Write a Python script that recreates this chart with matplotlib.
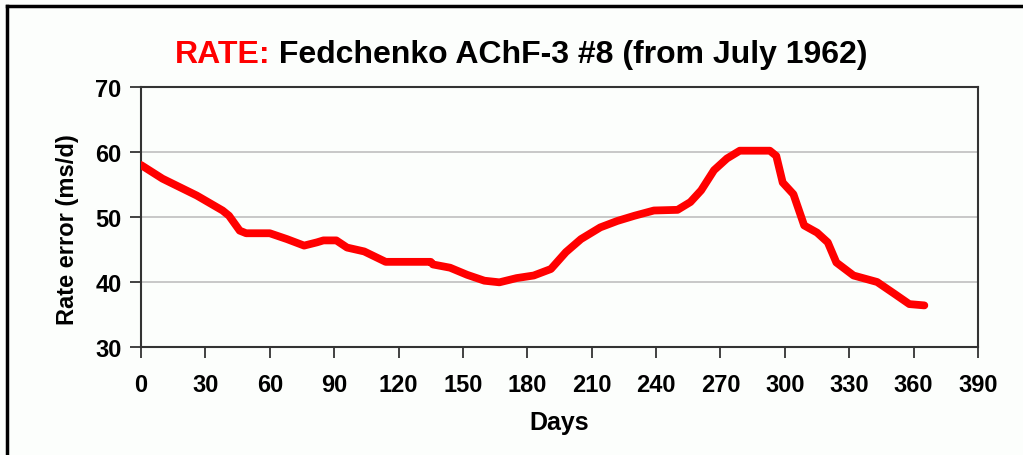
import matplotlib
matplotlib.use('Agg')
import matplotlib.pyplot as plt
from matplotlib.lines import Line2D

# values
days = [0, 10, 26, 38, 41, 46, 49, 60, 68, 76, 82, 85, 91, 96, 104, 114,
        121, 135, 136, 144, 152, 160, 167, 175, 183, 191, 198, 205, 214,
        222, 230, 239, 250, 256, 261, 267, 273, 279, 293, 296, 299, 304,
        309, 315, 320, 324, 332, 343, 351, 358, 365]
rate = [58.0, 55.9, 53.3, 51.0, 50.2, 47.9, 47.5, 47.5, 46.6, 45.6, 46.1,
        46.4, 46.4, 45.3, 44.7, 43.1, 43.1, 43.1, 42.7, 42.2, 41.1, 40.2,
        39.95, 40.6, 41.0, 42.0, 44.6, 46.6, 48.4, 49.4, 50.2, 51.0, 51.1,
        52.3, 54.1, 57.2, 59.0, 60.2, 60.2, 59.4, 55.3, 53.5, 48.7, 47.6,
        46.1, 43.0, 41.0, 40.0, 38.2, 36.6, 36.4]

xticks = list(range(0, 391, 30))
yticks = [30, 40, 50, 60, 70]

plt.rcParams['font.family'] = ['Liberation Sans', 'DejaVu Sans']
plt.rcParams['font.weight'] = 'bold'

bg = '#fcfefc'
fig = plt.figure(figsize=(10.23, 4.56), dpi=100, facecolor=bg)
ax = fig.add_axes([141/1023, 1 - 348/456, (978 - 141)/1023, (348 - 88)/456])
ax.set_facecolor(bg)

ax.plot(days, rate, color='#ff0000', lw=5.6, solid_capstyle='round',
        solid_joinstyle='round', zorder=3)

ax.set_xlim(0, 390)
ax.set_ylim(30, 70)
ax.set_xticks(xticks)
ax.set_yticks(yticks)
ax.yaxis.grid(True, color='#c8c8c8', lw=1.4)
ax.set_axisbelow(True)
for s in ax.spines.values():
    s.set_color('#333333')
    s.set_linewidth(1.5)
ax.tick_params(axis='both', direction='out', length=8, width=1.3,
               color='#333333', labelsize=17, pad=6)
ax.tick_params(axis='x', pad=11)
ax.set_xlabel('Days', fontsize=18, fontweight='bold', labelpad=10)
ax.set_ylabel('Rate error (ms/d)', fontsize=17, fontweight='bold')
ax.yaxis.set_label_coords(-0.074, 0.455)

# two-colour title
fig.canvas.draw()
r = fig.canvas.get_renderer()
t1 = fig.text(0, 1 - 63/456, 'RATE:', color='#ff0000', fontsize=23,
              fontweight='bold', va='baseline')
t2 = fig.text(0, 1 - 63/456, ' Fedchenko AChF-3 #8 (from July 1962)',
              color='black', fontsize=23, fontweight='bold', va='baseline')
w1 = t1.get_window_extent(r).width
w2 = t2.get_window_extent(r).width
x0 = 521 - (w1 + w2) / 2
t1.set_x(x0 / 1023)
t2.set_x((x0 + w1) / 1023)

# frame lines on left and top
fig.add_artist(Line2D([7/1023, 7/1023], [0, 1 - 7/456], color='black', lw=2.5,
                      transform=fig.transFigure))
fig.add_artist(Line2D([7/1023, 1], [1 - 7/456, 1 - 7/456], color='black', lw=2.5,
                      transform=fig.transFigure))

fig.savefig('out.png', dpi=100, facecolor=bg)
